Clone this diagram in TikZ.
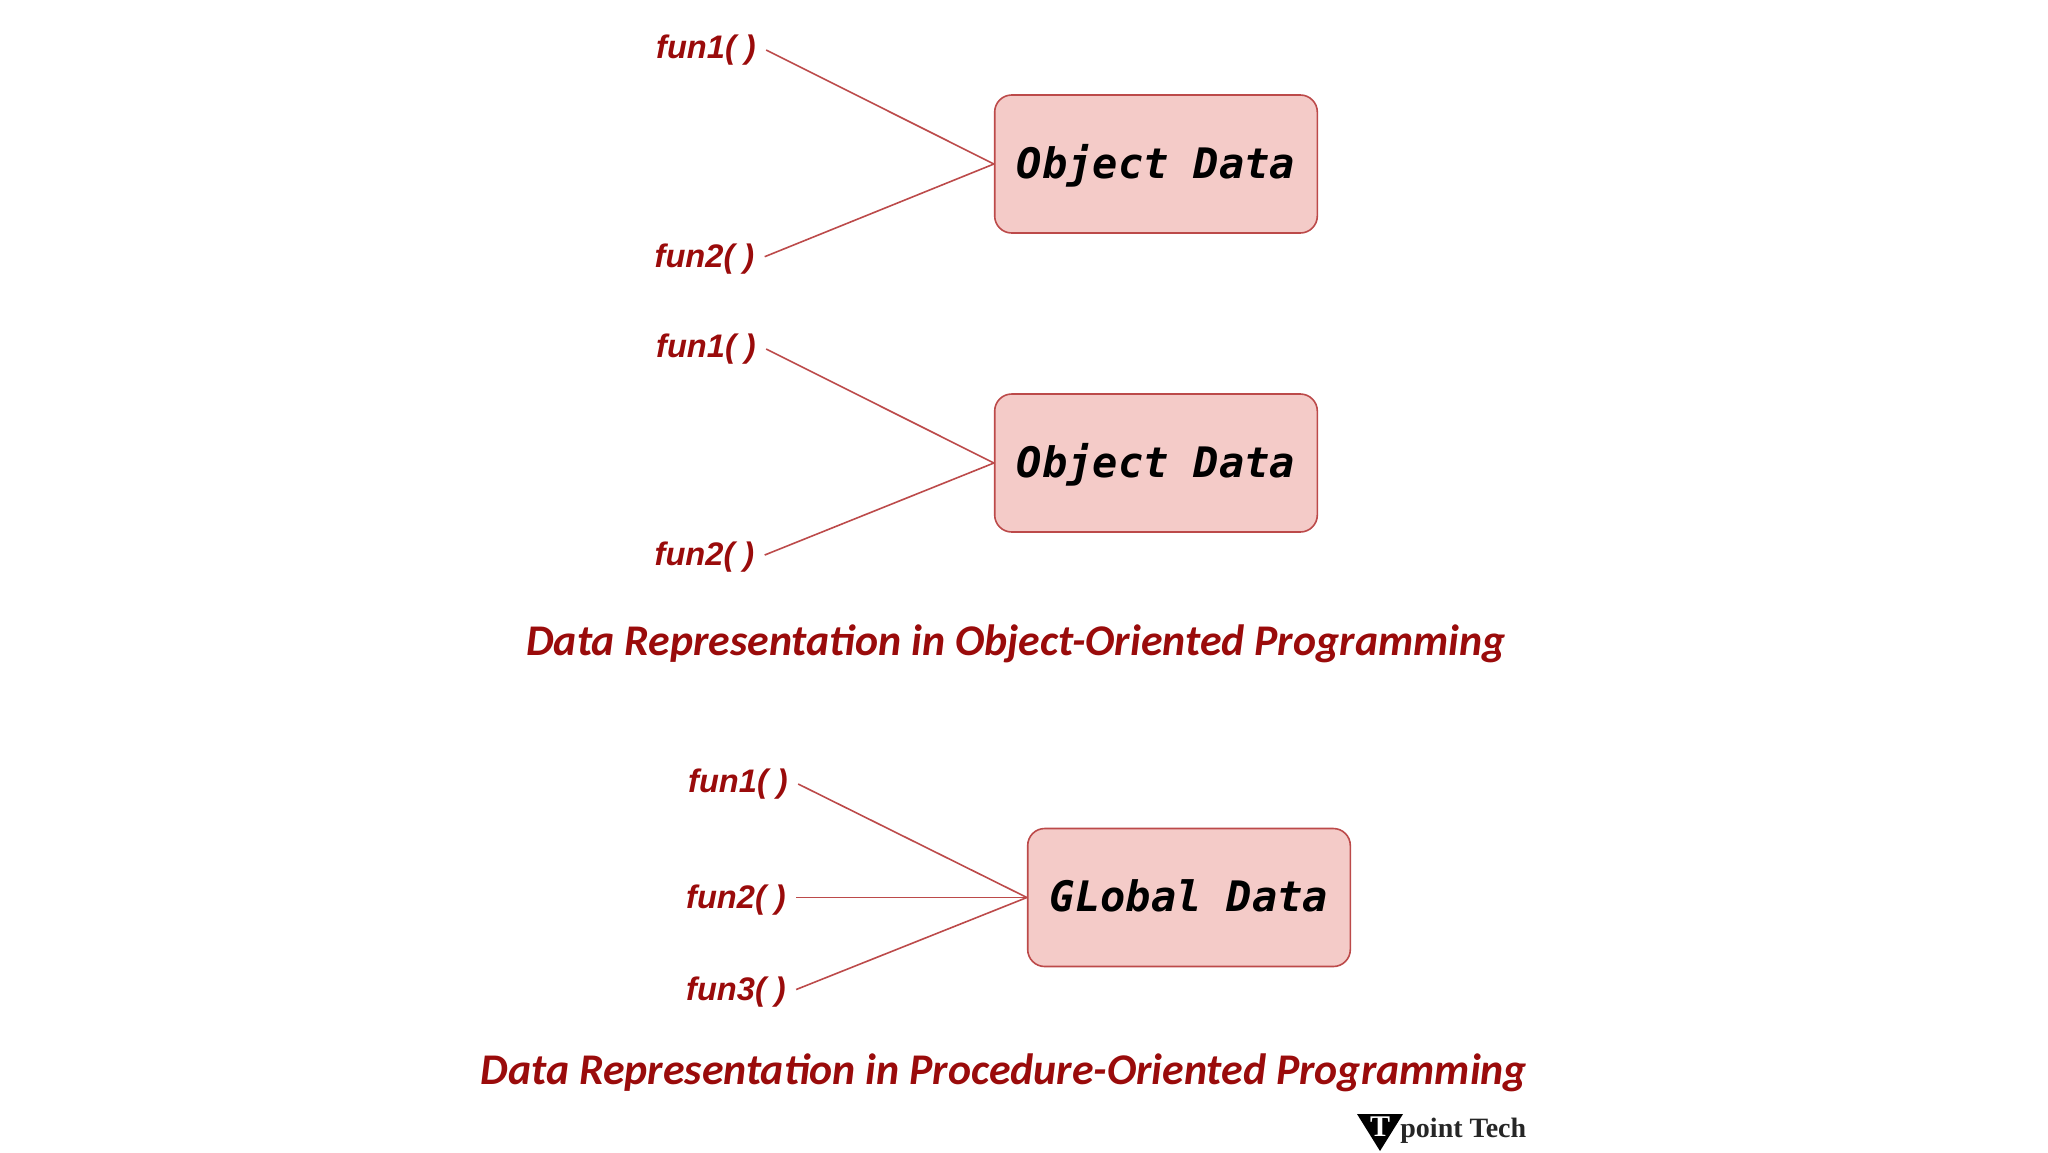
\documentclass[tikz,border=0pt]{standalone}
\usepackage{fontspec}
\setmainfont{Liberation Sans}
\newfontfamily\titlefont{Carlito}
\newfontfamily\boxfont{DejaVu Sans Mono}
\newfontfamily\logofont{Liberation Serif}
\definecolor{darkred}{HTML}{9A0B0B}
\definecolor{edgered}{HTML}{BC4A4A}
\definecolor{boxfill}{HTML}{F4CBC8}
\tikzset{
  x=0.5pt,y=-0.5pt,
  databox/.style={draw=edgered,fill=boxfill,rounded corners=8.5pt,line width=0.8pt,minimum width=161.3pt,minimum height=69pt,inner sep=0pt,font=\boxfont\bfseries\itshape\fontsize{21}{21}\selectfont,text=black,text height=16pt,text depth=1.6pt},
  funlabel/.style={font=\bfseries\itshape\fontsize{16.3}{18}\selectfont,text=darkred,inner xsep=5pt,inner ysep=0pt},
  funlow/.style={funlabel,text height=12pt,text depth=1.5pt},
  captionlabel/.style={font=\titlefont\bfseries\itshape\fontsize{21.9}{24}\selectfont,text=darkred,inner sep=0pt},
  link/.style={draw=edgered,line width=0.8pt},
}
\begin{document}
\begin{tikzpicture}
\useasboundingbox (0,0) rectangle (2048,1152);
\node[databox] (b1) at (1156,164) {Object Data};
\node[databox] (b2) at (1156,463) {Object Data};
\node[databox] (b3) at (1189,897.5) {GLobal Data};
\node[funlabel] (a1) at (706,50) {fun1( )};
\node[funlow] (a2) at (704.5,256.7) {fun2( )};
\node[funlabel] (c1) at (706,349) {fun1( )};
\node[funlow] (c2) at (704.5,555) {fun2( )};
\node[funlabel] (d1) at (738,784) {fun1( )};
\node[funlow] (d2) at (736,897.5) {fun2( )};
\node[funlow] (d3) at (736,989.5) {fun3( )};
\draw[link] (a1.east) -- (b1.west);
\draw[link] (a2.east) -- (b1.west);
\draw[link] (c1.east) -- (b2.west);
\draw[link] (c2.east) -- (b2.west);
\draw[link] (d1.east) -- (b3.west);
\draw[link] (d2.east) -- (b3.west);
\draw[link] (d3.east) -- (b3.west);
\node[captionlabel] (t1) at (1016,644) {Data Representation in Object-Oriented Programming};
\node[captionlabel] (t2) at (1004,1072.5) {Data Representation in Procedure-Oriented Programming};
\fill[black] (1357,1114) -- (1403,1114) -- (1380,1151) -- cycle;
\node[font=\logofont\bfseries\fontsize{15}{15}\selectfont,text=white,inner sep=0pt] (lt) at (1380,1127) {T};
\node[font=\logofont\bfseries\fontsize{14}{14}\selectfont,text=black!85,inner sep=0pt,anchor=west] (lg) at (1400,1131) {point Tech};
\end{tikzpicture}
\end{document}
